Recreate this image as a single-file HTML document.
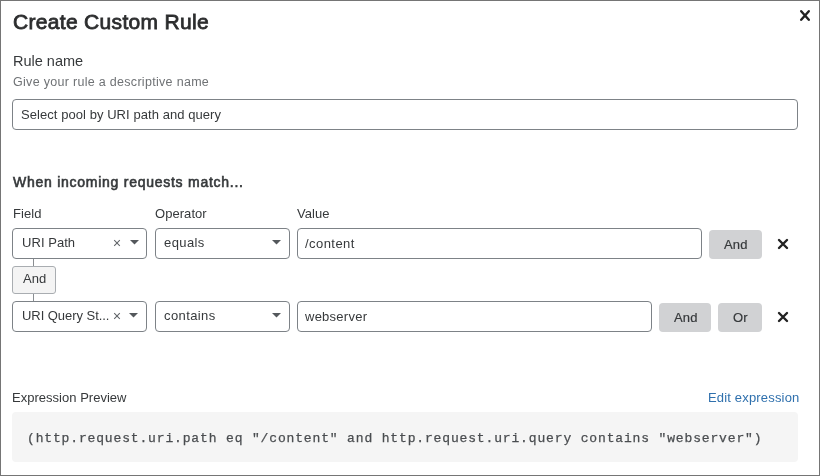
<!DOCTYPE html>
<html><head><meta charset="utf-8">
<style>
*{box-sizing:border-box;margin:0;padding:0}
html,body{width:820px;height:476px;overflow:hidden;background:#fff}
body{font-family:"Liberation Sans",sans-serif;color:#36393b;position:relative}
.frame{position:absolute;left:0;top:0;width:820px;height:476px;border:1px solid #757575}
.a{position:absolute;white-space:nowrap;line-height:1;will-change:transform}
.title{left:13px;top:11px;font-size:21px;font-weight:normal;-webkit-text-stroke:0.8px #2c2d2e;color:#2c2d2e;letter-spacing:0.32px}
.lbl{font-size:13.5px}
.sub{font-size:12.5px;color:#6f7275;letter-spacing:0.3px}
.box{position:absolute;border:1px solid #7d8287;border-radius:4px;background:#fff}
.txt{font-size:13px;letter-spacing:0.05px}
.btn{position:absolute;background:#d1d2d4;border-radius:4px}
.code{position:absolute;background:#f5f5f5;border-radius:4px}
.mono{font-family:"Liberation Mono",monospace;font-size:13px;color:#4a4d50;letter-spacing:0.85px;-webkit-text-stroke:0.25px #4a4d50}
.link{color:#2f70ad;font-size:13px;letter-spacing:0.17px}
</style></head><body>
<div class="frame"></div>
<div class="a title">Create Custom Rule</div>
<svg class="a" style="left:799px;top:9px" width="12" height="13" viewBox="0 0 12 13"><path d="M2.2 2.2 L9.8 10.8 M9.8 2.2 L2.2 10.8" stroke="#222" stroke-width="2.4" stroke-linecap="round"/></svg>

<div class="a lbl" style="left:12.5px;top:54px;font-size:14.5px;letter-spacing:0px">Rule name</div>
<div class="a sub" style="left:13px;top:76px">Give your rule a descriptive name</div>
<div class="box" style="left:12px;top:99px;width:786px;height:31px"></div>
<div class="a txt" style="left:20.5px;top:108px;font-size:13px;letter-spacing:0.06px">Select pool by URI path and query</div>

<div class="a lbl" style="left:13px;top:175px;font-size:14px;-webkit-text-stroke:0.6px #36393b;letter-spacing:0.74px">When incoming requests match...</div>
<div class="a txt" style="left:13px;top:207px">Field</div>
<div class="a txt" style="left:155px;top:207px">Operator</div>
<div class="a txt" style="left:297px;top:207px">Value</div>

<!-- row 1 -->
<div class="box" style="left:12px;top:228px;width:135px;height:31px"></div>
<div class="a txt" style="left:22px;top:236px">URI Path</div>
<svg class="a" style="left:113px;top:238.5px" width="8" height="8" viewBox="0 0 8 8"><path d="M1.2 1.2 L6.8 6.8 M6.8 1.2 L1.2 6.8" stroke="#606468" stroke-width="1.05"/></svg>
<svg class="a" style="left:130px;top:240px" width="9" height="5" viewBox="0 0 9 5"><path d="M0 0 L9 0 L4.5 4.6 Z" fill="#54585c"/></svg>
<div class="box" style="left:155px;top:228px;width:135px;height:31px"></div>
<div class="a txt" style="left:164px;top:236px;letter-spacing:0.4px">equals</div>
<svg class="a" style="left:272px;top:240px" width="9" height="5" viewBox="0 0 9 5"><path d="M0 0 L9 0 L4.5 4.6 Z" fill="#54585c"/></svg>
<div class="box" style="left:297px;top:228px;width:405px;height:31px"></div>
<div class="a txt" style="left:305px;top:237px;letter-spacing:0.45px">/content</div>
<div class="btn" style="left:709px;top:230px;width:53px;height:29px"></div>
<div class="a txt" style="left:724px;top:238px;letter-spacing:0.15px;-webkit-text-stroke:0.2px #36393b">And</div>
<svg class="a" style="left:777px;top:238px" width="12" height="12" viewBox="0 0 12 12"><path d="M2 2 L10 10 M10 2 L2 10" stroke="#222" stroke-width="2.4" stroke-linecap="round"/></svg>

<!-- connector -->
<div class="a" style="left:33px;top:259px;width:1px;height:43px;background:#8a8e92"></div>
<div class="a" style="left:12px;top:266px;width:44px;height:28px;background:#f4f4f4;border:1px solid #a9adb1;border-radius:3px"></div>
<div class="a txt" style="left:23px;top:272px;letter-spacing:0.1px">And</div>

<!-- row 2 -->
<div class="box" style="left:12px;top:301px;width:135px;height:31px"></div>
<div class="a txt" style="left:22px;top:309px;letter-spacing:-0.05px">URI Query St...</div>
<svg class="a" style="left:113px;top:311.5px" width="8" height="8" viewBox="0 0 8 8"><path d="M1.2 1.2 L6.8 6.8 M6.8 1.2 L1.2 6.8" stroke="#606468" stroke-width="1.05"/></svg>
<svg class="a" style="left:129px;top:313px" width="9" height="5" viewBox="0 0 9 5"><path d="M0 0 L9 0 L4.5 4.6 Z" fill="#54585c"/></svg>
<div class="box" style="left:155px;top:301px;width:135px;height:31px"></div>
<div class="a txt" style="left:164px;top:309px;letter-spacing:0.4px">contains</div>
<svg class="a" style="left:272px;top:313px" width="9" height="5" viewBox="0 0 9 5"><path d="M0 0 L9 0 L4.5 4.6 Z" fill="#54585c"/></svg>
<div class="box" style="left:297px;top:301px;width:355px;height:31px"></div>
<div class="a txt" style="left:305px;top:310px;letter-spacing:0.25px">webserver</div>
<div class="btn" style="left:659px;top:303px;width:52px;height:29px"></div>
<div class="a txt" style="left:674px;top:311px;letter-spacing:0.15px;-webkit-text-stroke:0.2px #36393b">And</div>
<div class="btn" style="left:718px;top:303px;width:44px;height:29px"></div>
<div class="a txt" style="left:733px;top:311px;letter-spacing:0.1px;-webkit-text-stroke:0.2px #36393b">Or</div>
<svg class="a" style="left:777px;top:311px" width="12" height="12" viewBox="0 0 12 12"><path d="M2 2 L10 10 M10 2 L2 10" stroke="#222" stroke-width="2.4" stroke-linecap="round"/></svg>

<div class="a txt" style="left:12px;top:391px;letter-spacing:0.02px">Expression Preview</div>
<div class="a link" style="left:708px;top:391px">Edit expression</div>
<div class="code" style="left:12px;top:412px;width:786px;height:50px"></div>
<div class="a mono" style="left:27px;top:432px">(http.request.uri.path eq "/content" and http.request.uri.query contains "webserver")</div>
</body></html>
